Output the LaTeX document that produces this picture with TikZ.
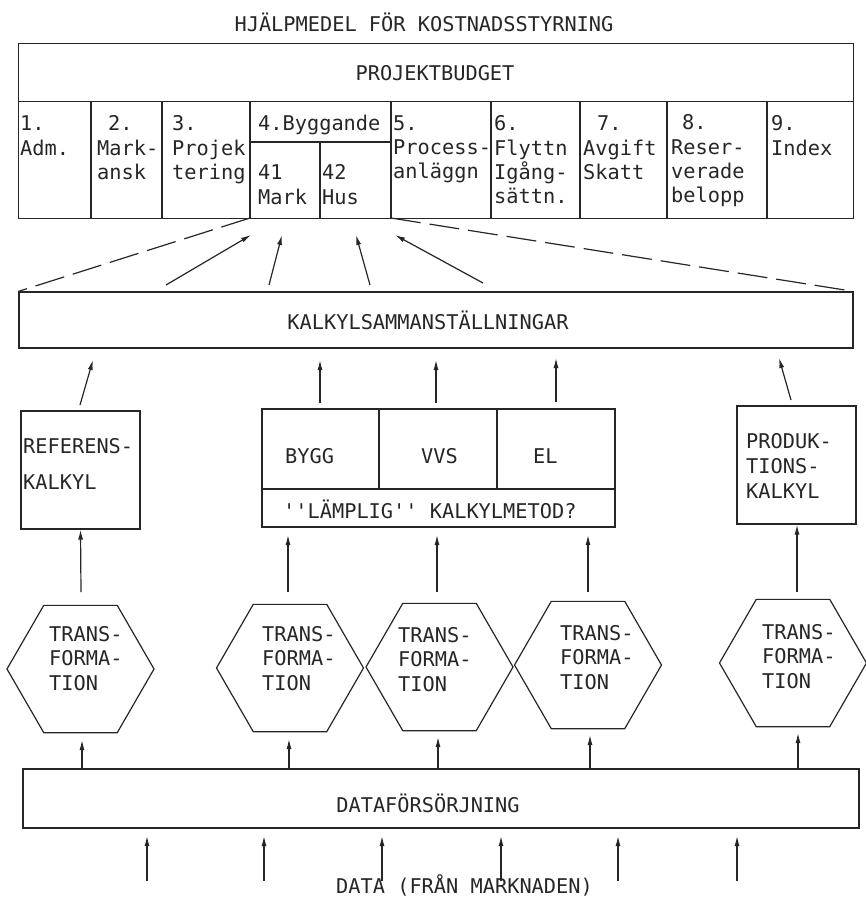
\documentclass[tikz,border=0pt]{standalone}
\usepackage{fontspec}
\setmonofont{DejaVu Sans Mono}
\usetikzlibrary{arrows.meta,shapes.geometric}
\begin{document}
\begin{tikzpicture}[x=1pt,y=-1pt,
  every node/.style={font=\ttfamily\fontsize{20.3}{24}\selectfont, inner sep=0pt, text=black!85},
  ln/.style={draw=black!85, line width=1.2pt},
  arr/.style={draw=black!85, line width=1.2pt, -{Latex[length=10pt,width=5pt]}},
  dsh/.style={draw=black!85, line width=1.2pt, dash pattern=on 30pt off 9pt},
  txt/.style={anchor=north west, align=left},
  hexbox/.style={draw=black!85, line width=1.2pt, shape=regular polygon, regular polygon sides=6, minimum size=147pt, inner sep=0pt},
  hext/.style={anchor=north west, align=left, font=\ttfamily\fontsize{20.3}{24.5}\selectfont},
  ]
\useasboundingbox (0,0) rectangle (866,899);

% title
\node (title) at (424,22) {HJÄLPMEDEL FÖR KOSTNADSSTYRNING};

% project budget table
\node[ln, anchor=north west, minimum width=835pt, minimum height=175pt] (pb) at (18,43) {};
\node (pbt) at (435,73) {PROJEKTBUDGET};
\draw[ln] (18,101.5) -- (853,101.5);
\foreach \x in {91,162,250,391,491,580,667,767} \draw[ln] (\x,101.5) -- (\x,218);
\draw[ln] (250,142) -- (391,142);
\draw[ln] (320,142) -- (320,218);

\node[txt] (n1) at (20,115.5) {1.};
\node[txt] (b1) at (20,139.5) {Adm.};
\node[txt] (n2) at (108,115.5) {2.};
\node[txt] (b2) at (97,139.5) {Mark-\\ansk};
\node[txt] (n3) at (172,115.5) {3.};
\node[txt] (b3) at (172,139.5) {Projek\\tering};
\node[txt] (n4) at (258,115) {4.Byggande};
\node[txt, font=\ttfamily\fontsize{20.3}{25}\selectfont] (b41) at (258,164.5) {41\\Mark};
\node[txt, font=\ttfamily\fontsize{20.3}{25}\selectfont] (b42) at (322,164.5) {42\\Hus};
\node[txt] (n5) at (393,115.5) {5.};
\node[txt] (b5) at (393,139.5) {Process-\\anläggn};
\node[txt] (n6) at (494,115.5) {6.};
\node[txt] (b6) at (494,139.5) {Flyttn\\Igång-\\sättn.};
\node[txt] (n7) at (597,115.5) {7.};
\node[txt] (b7) at (583,139.5) {Avgift\\Skatt};
\node[txt] (n8) at (682,114) {8.};
\node[txt] (b8) at (671,139.5) {Reser-\\verade\\belopp};
\node[txt] (n9) at (771,115.5) {9.};
\node[txt] (b9) at (771,139.5) {Index};

% kalkylsammanstallningar
\node[ln, minimum width=834pt, minimum height=56pt] (kalk) at (436,320) {};
\node (kalkt) at (428,320) {KALKYLSAMMANSTÄLLNINGAR};
\coordinate (dl) at (250,218);
\coordinate (dr) at (391,218);
\draw[dsh] (dl) -- (kalk.north west);
\draw[dsh] (dr) -- (kalk.north east);

\coordinate (u1a) at (166,285); \coordinate (u1b) at (251,235);
\coordinate (u2a) at (269,285); \coordinate (u2b) at (282,235);
\coordinate (u3a) at (370,285); \coordinate (u3b) at (356,235);
\coordinate (u4a) at (483,283); \coordinate (u4b) at (395,235);
\draw[arr] (u1a) -- (u1b);
\draw[arr] (u2a) -- (u2b);
\draw[arr] (u3a) -- (u3b);
\draw[arr] (u4a) -- (u4b);

% calculation boxes
\node[ln, minimum width=119pt, minimum height=118pt] (ref) at (80.5,470) {};
\node[txt, font=\ttfamily\fontsize{20.3}{36}\selectfont] (reft) at (23,438.5) {REFERENS-\\KALKYL};

\node[ln, minimum width=353pt, minimum height=118pt] (mid) at (438.5,468) {};
\draw[ln] (262,489) -- (615,489);
\draw[ln] (379,409) -- (379,489);
\draw[ln] (497,409) -- (497,489);
\node[anchor=west] (bygg) at (285,456) {BYGG};
\node[anchor=west] (vvs) at (421,456) {VVS};
\node[anchor=west] (el) at (533,456) {EL};
\node[anchor=west] (metod) at (283,509) {''LÄMPLIG'' KALKYLMETOD?};

\node[ln, minimum width=119pt, minimum height=118pt] (prod) at (796.5,465) {};
\node[txt, font=\ttfamily\fontsize{20.3}{25}\selectfont] (prodt) at (746,433) {PRODUK-\\TIONS-\\KALKYL};

\coordinate (k1a) at (80,405); \coordinate (k1b) at (93,360);
\coordinate (k2a) at (320,403); \coordinate (k2b) at (320,360);
\coordinate (k3a) at (436,403); \coordinate (k3b) at (436,360);
\coordinate (k4a) at (556,402); \coordinate (k4b) at (556,358);
\coordinate (k5a) at (791,400); \coordinate (k5b) at (779,358);
\draw[arr] (k1a) -- (k1b);
\draw[arr] (k2a) -- (k2b);
\draw[arr] (k3a) -- (k3b);
\draw[arr] (k4a) -- (k4b);
\draw[arr] (k5a) -- (k5b);

% transformations
\node[hexbox] (h1) at (80.5,669) {};
\node[hexbox] (h2) at (290,668) {};
\node[hexbox] (h3) at (439.5,667) {};
\node[hexbox] (h4) at (588,665) {};
\node[hexbox] (h5) at (793,663) {};
\node[hext] (t1) at (49,626) {TRANS-\\FORMA-\\TION};
\node[hext] (t2) at (262,626) {TRANS-\\FORMA-\\TION};
\node[hext] (t3) at (398,627) {TRANS-\\FORMA-\\TION};
\node[hext] (t4) at (560,625) {TRANS-\\FORMA-\\TION};
\node[hext] (t5) at (762,624) {TRANS-\\FORMA-\\TION};

\draw[arr] (81,592) -- (ref.south);
\draw[arr] (288,592) -- (288,535);
\draw[arr] (437,592) -- (437,535);
\draw[arr] (588,592) -- (588,535);
\draw[arr] (797,592) -- (prod.south -| 797,0);

% data supply
\node[ln, minimum width=836pt, minimum height=59pt] (data) at (441,798.5) {};
\node (datat) at (428,803) {DATAFÖRSÖRJNING};
\draw[arr] (82,769) -- (82,740);
\draw[arr] (289,769) -- (289,739);
\draw[arr] (438,769) -- (438,737);
\draw[arr] (590,769) -- (590,735);
\draw[arr] (798,769) -- (798,733);

\foreach \x in {147,264,382,501,618,737} \draw[arr] (\x,881) -- (\x,836);
\node[anchor=west] (src) at (336,885) {DATA (FRÅN MARKNADEN)};
\end{tikzpicture}
\end{document}
